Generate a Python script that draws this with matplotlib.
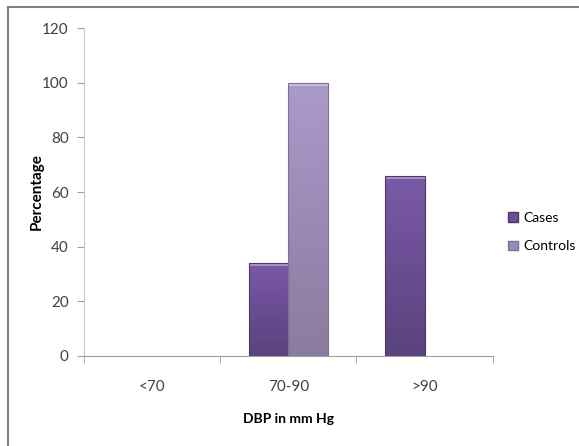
import matplotlib.pyplot as plt
import numpy as np
from matplotlib.colors import LinearSegmentedColormap
from matplotlib.lines import Line2D
from matplotlib.patches import Patch

plt.rcParams['font.family'] = ['Lato', 'DejaVu Sans']

categories = ['<70', '70-90', '>90']
cases = [0, 34, 66]
controls = [0, 100, 0]

cases_cmap = LinearSegmentedColormap.from_list('cases', ['#5a437c', '#6b4d93', '#7a5aa6'])
controls_cmap = LinearSegmentedColormap.from_list('controls', ['#8a7c9e', '#9a8ab6', '#ab9bcb'])


def gradient_bars(ax, xs, heights, width, cmap, edge):
    bars = ax.bar(xs, heights, width, color='none', edgecolor=edge, linewidth=0.8, zorder=3)
    grad = np.linspace(0, 1, 256).reshape(-1, 1)
    for bar in bars:
        if bar.get_height() <= 0:
            bar.set_visible(False)
            continue
        x0, y0 = bar.get_x(), bar.get_y()
        w, h = bar.get_width(), bar.get_height()
        im = ax.imshow(grad, cmap=cmap, aspect='auto', origin='lower',
                       extent=(x0, x0 + w, y0, y0 + h), zorder=2)
        im.set_clip_path(bar)
        # light rim at the top edge
        ax.fill_between([x0, x0 + w], y0 + h - 1.2, y0 + h, color='white',
                        alpha=0.35, linewidth=0, zorder=2.5)
    return bars


fig = plt.figure(figsize=(5.79, 4.46), dpi=100)
ax = fig.add_axes([0.145, 0.202, 0.706, 0.735])

x = np.arange(len(categories))
w = 0.29
gradient_bars(ax, x - w / 2, cases, w, cases_cmap, '#4a3866')
gradient_bars(ax, x + w / 2, controls, w, controls_cmap, '#7d7090')

ax.set_xlim(-0.5, 2.5)
ax.set_ylim(0, 120)
ax.set_yticks(range(0, 121, 20))
ax.set_xticks(x)
ax.set_xticklabels(categories)
ax.set_xticks([-0.5, 0.5, 1.5, 2.5], minor=True)
ax.tick_params(axis='x', which='major', length=0, pad=17, labelsize=11, colors='#404040')
ax.tick_params(axis='x', which='minor', length=5, color='#a0a0a0', direction='out')
ax.tick_params(axis='y', length=5, color='#a0a0a0', labelsize=11, labelcolor='#404040', pad=6)

for side in ['top', 'right']:
    ax.spines[side].set_visible(False)
ax.spines['left'].set_color('#c8c8c8')
ax.spines['bottom'].set_color('#a0a0a0')

ax.set_ylabel('Percentage', fontsize=11, fontweight='bold')
ax.yaxis.set_label_coords(-0.098, 0.5)
ax.set_xlabel('DBP in mm Hg', fontsize=10, fontweight='bold', labelpad=14)

handles = [Patch(facecolor='#6b4d93', edgecolor='#4a3866'),
           Patch(facecolor='#9a8ab6', edgecolor='#7d7090')]
fig.legend(handles, ['Cases', 'Controls'], loc='center left',
           bbox_to_anchor=(0.877, 0.48), frameon=False, fontsize=10,
           handlelength=0.7, handleheight=0.7, handletextpad=0.4, labelspacing=1.2,
           borderaxespad=0, borderpad=0)

# frame lines along the top and left
fig.add_artist(Line2D([0.013, 1.0], [0.984, 0.984], color='#808080', linewidth=1.5))
fig.add_artist(Line2D([0.013, 0.013], [0.0, 0.984], color='#808080', linewidth=1.5))

fig.savefig('out.png', dpi=100)
